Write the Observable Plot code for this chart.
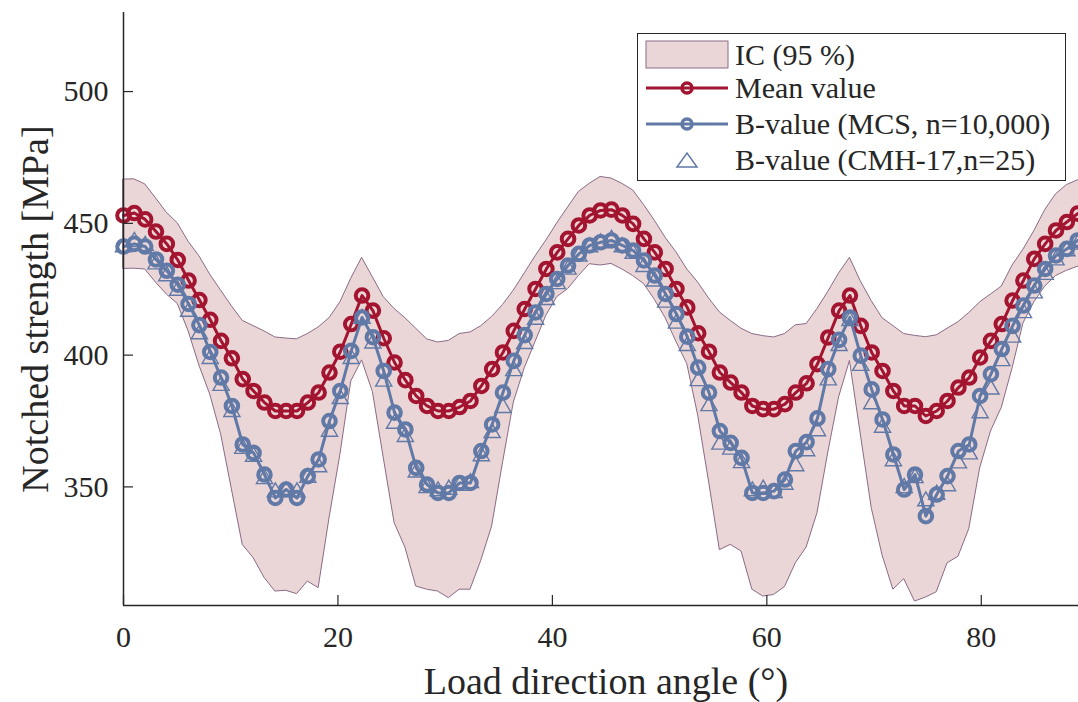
<!DOCTYPE html>
<html>
<head>
<meta charset="utf-8">
<script src="https://cdn.jsdelivr.net/npm/d3@7"></script>
<script src="https://cdn.jsdelivr.net/npm/@observablehq/plot@0.6"></script>
<style>
  html, body { margin: 0; padding: 0; background: #fff; width: 1078px; height: 702px; overflow: hidden; }
  #wrap { position: relative; width: 1078px; height: 702px; overflow: hidden; }
  #chart { position: absolute; left: 0; top: 0; width: 1100px; }
  #chart svg { max-width: none !important; width: 1100px; height: 702px; display: block; }
  .legend { position: absolute; left: 637px; top: 33px; width: 429px; height: 148px; box-sizing: border-box;
            border: 1.5px solid #262626; background: #fff; font-family: "Liberation Serif", serif; font-size: 30px; color: #262626; }
  .legend svg { position: absolute; left: 0; top: 0; }
  .legend .lbl { position: absolute; left: 97px; height: 30px; line-height: 30px; white-space: nowrap; }
</style>
</head>
<body>
<div id="wrap">
  <div id="chart"></div>
  <div class="legend">
    <svg width="100" height="146">
      <rect x="8" y="7" width="82" height="27" fill="#ebd6d7" stroke="#8b6a86" stroke-width="1"></rect>
      <line x1="8" x2="90" y1="54" y2="54" stroke="#a2142f" stroke-width="3"></line>
      <circle cx="49" cy="54" r="5" fill="none" stroke="#a2142f" stroke-width="3.5"></circle>
      <line x1="8" x2="90" y1="90" y2="90" stroke="#6179a6" stroke-width="3"></line>
      <circle cx="49" cy="90" r="5" fill="none" stroke="#6179a6" stroke-width="3.5"></circle>
      <polygon points="39,133 59,133 49,119" fill="none" stroke="#6179a6" stroke-width="1.5"></polygon>
    </svg>
    <div class="lbl" style="top:6px">IC (95 %)</div>
    <div class="lbl" style="top:39px">Mean value</div>
    <div class="lbl" style="top:75px">B-value (MCS, n=10,000)</div>
    <div class="lbl" style="top:111px">B-value (CMH-17,n=25)</div>
  </div>
</div>
<script>
// Load direction angle (deg), 90 points from 0 to 90
const angles = [0, 1.01, 2.02, 3.03, 4.04, 5.06, 6.07, 7.08, 8.09, 9.10,
  10.11, 11.12, 12.13, 13.15, 14.16, 15.17, 16.18, 17.19, 18.20, 19.21,
  20.22, 21.24, 22.25, 23.26, 24.27, 25.28, 26.29, 27.30, 28.31, 29.33,
  30.34, 31.35, 32.36, 33.37, 34.38, 35.39, 36.40, 37.42, 38.43, 39.44,
  40.45, 41.46, 42.47, 43.48, 44.49, 45.51, 46.52, 47.53, 48.54, 49.55,
  50.56, 51.57, 52.58, 53.60, 54.61, 55.62, 56.63, 57.64, 58.65, 59.66,
  60.67, 61.69, 62.70, 63.71, 64.72, 65.73, 66.74, 67.75, 68.76, 69.78,
  70.79, 71.80, 72.81, 73.82, 74.83, 75.84, 76.85, 77.87, 78.88, 79.89,
  80.90, 81.91, 82.92, 83.93, 84.94, 85.96, 86.97, 87.98, 88.99, 90];

const meanValue = [453.0, 453.9, 451.5, 446.9, 442.2, 436.1, 428.3, 420.9, 413.4, 405.4,
  398.8, 390.9, 386.4, 382.0, 378.8, 378.8, 378.8, 382.0, 385.8, 393.4,
  401.3, 411.8, 422.6, 416.9, 406.4, 397.2, 390.5, 384.5, 380.7, 378.8,
  378.8, 380.3, 382.6, 388.3, 394.7, 401.0, 409.2, 417.5, 425.1, 432.7,
  439.0, 444.1, 449.2, 453.0, 454.9, 455.2, 453.0, 449.8, 444.1, 439.0,
  432.7, 425.1, 418.1, 408.3, 401.3, 393.4, 389.6, 385.8, 380.7, 379.5,
  379.5, 381.4, 385.8, 389.3, 396.6, 406.7, 416.9, 422.6, 411.1, 401.0,
  394.0, 386.4, 380.7, 380.7, 376.9, 378.8, 382.6, 387.7, 391.5, 399.1,
  405.4, 411.8, 420.7, 428.3, 436.5, 442.2, 447.3, 450.5, 453.7, 453.0];

const bValueMCS = [441.2, 442.2, 441.2, 436.3, 432.0, 426.7, 419.4, 411.4, 401.2, 391.5,
  380.7, 366.1, 362.9, 354.7, 345.8, 349.0, 345.8, 354.1, 360.4, 375.0,
  386.4, 401.6, 414.3, 406.8, 394.0, 378.2, 371.8, 357.2, 350.9, 347.7,
  347.7, 351.5, 351.5, 363.6, 373.7, 385.8, 397.8, 407.6, 416.2, 423.2,
  428.9, 434.0, 438.4, 441.6, 442.8, 443.5, 441.6, 439.7, 435.9, 430.2,
  423.2, 415.6, 407.0, 395.3, 385.8, 371.2, 366.7, 361.0, 347.7, 347.7,
  348.4, 352.8, 363.6, 367.0, 376.0, 394.7, 405.8, 414.3, 399.8, 387.0,
  375.6, 362.3, 349.0, 354.7, 338.9, 347.1, 354.1, 363.6, 366.1, 384.5,
  392.8, 402.3, 411.1, 418.8, 426.4, 432.7, 437.8, 440.3, 443.5, 441.5];

const bValueCMH = [441.0, 443.0, 441.5, 434.5, 430.0, 424.5, 416.5, 408.0, 398.6, 388.4,
  378.5, 364.5, 361.5, 353.0, 348.0, 348.4, 348.0, 353.5, 357.5, 371.0,
  383.4, 398.6, 413.8, 404.5, 390.0, 374.0, 369.0, 355.5, 349.6, 348.4,
  349.0, 350.5, 351.5, 361.7, 370.5, 380.0, 394.0, 404.3, 413.5, 421.0,
  427.0, 432.5, 437.5, 441.0, 442.5, 443.8, 441.0, 438.5, 433.5, 428.0,
  420.0, 412.0, 403.5, 390.2, 380.7, 366.1, 364.2, 359.1, 348.4, 349.0,
  347.7, 350.9, 357.9, 363.6, 371.2, 390.5, 403.5, 413.0, 396.0, 381.4,
  372.5, 359.8, 349.6, 353.4, 344.6, 347.1, 350.3, 359.0, 362.4, 378.0,
  387.0, 397.8, 406.7, 416.0, 423.5, 430.5, 436.0, 439.5, 442.0, 441.0];

const icLow = [432.7, 432.8, 432.5, 427.5, 423, 419.4, 409, 396, 385, 370,
  349, 328, 323, 315.5, 310.3, 310.6, 309.3, 314.1, 311.6, 338,
  362, 390, 398, 386, 361, 336.3, 327, 312.2, 311, 310.3,
  307.8, 311, 311, 322, 335, 359, 382, 395, 405, 415,
  422, 425, 430, 434.5, 434, 434.6, 432.5, 430, 427, 421,
  414, 405, 396.6, 377, 352, 326, 328, 325.5, 311, 308.4,
  309, 312, 321, 327, 340, 363, 384, 397.8, 370, 342,
  324, 311, 315, 306.5, 308, 310, 321, 323.5, 334, 357,
  371, 380, 395, 412, 420, 426, 430, 432, 433.5, 433];

const icHigh = [466.6, 466.7, 464.8, 459.5, 454, 450, 443, 437.5, 430.5, 424.5,
  418.5, 413, 411, 409, 406.7, 406.3, 406, 408, 410.5, 414,
  420, 429, 436.9, 429.5, 422, 417.5, 414, 410, 406, 404.8,
  405.4, 408, 408.6, 411, 414.5, 419, 424.5, 431, 437.5, 443.5,
  450, 456, 461.9, 465, 467.6, 467, 465, 462.5, 457, 451,
  444.5, 439, 432.5, 427.5, 421.5, 416.2, 413, 410, 408, 407.2,
  406.7, 408, 411.3, 411.8, 417.5, 424, 431, 436.9, 428, 420.5,
  414, 411, 408, 407.3, 406.8, 407.5, 410, 412.5, 416, 420,
  423, 426, 434, 440, 447, 455, 461, 464.5, 466.3, 466.6];

const xTicks = [0, 20, 40, 60, 80];
const yTicks = [350, 400, 450, 500];
const xLabel = "Load direction angle (°)";
const yLabel = "Notched strength [MPa]";

const RED = "#a2142f";
const BLUE = "#6179a6";
const INK = "#262626";

const rows = angles.map((a, i) => ({
  angle: a, mean: meanValue[i], mcs: bValueMCS[i], cmh: bValueCMH[i], lo: icLow[i], hi: icHigh[i]
}));

const chart = Plot.plot({
  width: 1100,
  height: 702,
  marginLeft: 123,
  marginRight: 12,
  marginTop: 12,
  marginBottom: 97,
  x: {domain: [0, 90]},
  y: {domain: [305, 530]},
  style: {fontFamily: "'Liberation Serif', serif", fontSize: "30px", color: INK, background: "transparent"},
  marks: [
    Plot.areaY(rows, {x: "angle", y1: "lo", y2: "hi", fill: "#ebd6d7", stroke: "#8b6a86", strokeWidth: 1}),
    Plot.line(rows, {x: "angle", y: "mean", stroke: RED, strokeWidth: 3}),
    Plot.dot(rows, {x: "angle", y: "mean", r: 6.3, stroke: RED, strokeWidth: 4, fill: "none"}),
    Plot.line(rows, {x: "angle", y: "mcs", stroke: BLUE, strokeWidth: 3}),
    Plot.dot(rows, {x: "angle", y: "mcs", r: 6.3, stroke: BLUE, strokeWidth: 4, fill: "none"}),
    Plot.dot(rows, {x: "angle", y: "cmh", symbol: "triangle", r: 6, stroke: BLUE, strokeWidth: 1.4, fill: "none"}),
    Plot.ruleY([305], {stroke: INK, strokeWidth: 1.5}),
    Plot.ruleX([0], {stroke: INK, strokeWidth: 1.5}),
    Plot.axisX(xTicks, {tickSize: -10, tickPadding: 30, label: null, stroke: INK, strokeWidth: 1.2, fontSize: 30}),
    Plot.axisY(yTicks, {tickSize: -10, tickPadding: 25, label: null, stroke: INK, strokeWidth: 1.2, fontSize: 30}),
    Plot.text([xLabel], {frameAnchor: "bottom", dy: 76, lineAnchor: "middle", textAnchor: "middle", fontSize: 38, fill: INK}),
    Plot.text([yLabel], {frameAnchor: "left", dx: -88, rotate: -90, lineAnchor: "middle", textAnchor: "middle", fontSize: 38, fill: INK})
  ]
});
document.getElementById("chart").appendChild(chart);
</script>
</body>
</html>
